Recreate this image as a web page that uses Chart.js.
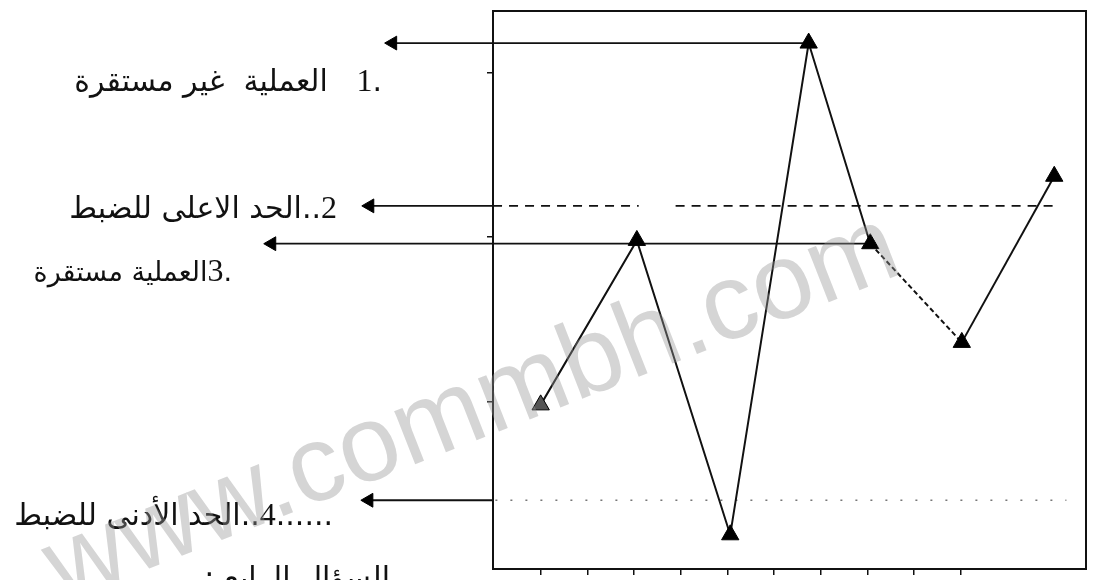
<!DOCTYPE html>
<html lang="ar">
<head>
<meta charset="utf-8">
<script src="https://cdn.jsdelivr.net/npm/chart.js@4.4.1/dist/chart.umd.min.js"></script>
<style>
body { margin: 0; background: #fff; }
#quadro { position: relative; width: 1097px; height: 580px; overflow: hidden; }
#grafico { position: absolute; left: 0; top: 0; }
.rotulo { position: absolute; font-family: "DejaVu Sans", sans-serif; font-size: 30px; color: #111; white-space: nowrap; line-height: 36px; }
.num { font-family: "Liberation Serif", serif; font-size: 32px; }
#marca { position: absolute; left: -60px; top: 340px; width: 1060px; text-align: center;
  font-family: "Liberation Sans", sans-serif; font-size: 108px; color: rgba(150,150,150,0.4);
  transform: rotate(-21.4deg); pointer-events: none; }
</style>
</head>
<body>
<div id="quadro">
  <canvas id="grafico" width="1097" height="580"></canvas>
  <div class="rotulo" dir="rtl" style="right:715px; top:62px;">.<span class="num">1</span>&nbsp;&nbsp;&nbsp;العملية&nbsp;&nbsp;غير مستقرة</div>
  <div class="rotulo" dir="rtl" style="right:760px; top:189px;"><span class="num">2</span>..الحد الاعلى للضبط</div>
  <div class="rotulo" dir="rtl" style="right:865px; top:252px; font-size:27px;">.<span class="num">3</span>العملية مستقرة</div>
  <div class="rotulo" dir="rtl" style="right:764px; top:496px;">......<span class="num">4</span>..الحد الأدنى للضبط</div>
  <div class="rotulo" dir="rtl" style="right:707px; top:560px;">السؤال الرابع :</div>
  <div id="marca">www.commbh.com</div>
</div>
<script>
// amostras do grafico de controle (unidades das escalas)
var posicoes = [0, 2.06, 4.06, 5.74, 7.06, 9.02, 11.0];
var valores = [0.98, 1.98, 0.19, 3.18, 1.96, 1.36, 2.37];
var limiteSuperior = 2.19;
var limiteInferior = 0.40;
var marcasX = [0, 1, 2, 3, 4, 5, 6, 7, 8, 9];
var marcasY = [1, 2, 3];
// ponta das setas (fora da caixa) e fim das linhas de limite
var pontasSetas = [-3.17, -3.66, -5.76, -3.68];
var bordaEsquerda = -1.02;
var fimSuperior = 11.04;
var fimInferior = 11.26;

document.addEventListener("DOMContentLoaded", desenhar);

function pontos(xs, ys) {
    return xs.map(function (x, i) { return { x: x, y: ys[i] }; });
}

function seta(x1, x2, y) {
    return {
        seta: true,
        data: [{ x: x1, y: y }, { x: x2, y: y }],
        borderColor: '#111',
        borderWidth: 1.8,
        pointStyle: 'triangle',
        rotation: -90,
        pointRadius: [8, 0],
        pointBackgroundColor: '#000',
        pointBorderColor: '#000',
        pointBorderWidth: 1,
        clip: false
    };
}

// as pontas ficam fora da area do grafico, o Chart.js nao as desenha sozinho
var pontasPlugin = {
    id: 'pontas',
    afterDatasetsDraw: function (chart) {
        var area = { left: -9999, right: 9999, top: -9999, bottom: 9999 };
        chart.data.datasets.forEach(function (ds, i) {
            if (!ds.seta) return;
            var el = chart.getDatasetMeta(i).data[0];
            if (el) el.draw(chart.ctx, area);
        });
    }
};

function desenhar() {
    var ctx = document.getElementById('grafico').getContext('2d');

    var serie = {
        data: pontos(posicoes, valores),
        borderColor: '#111',
        borderWidth: 2,
        pointStyle: 'triangle',
        pointRadius: 10,
        pointBackgroundColor: ['#555', '#000', '#000', '#000', '#000', '#000', '#000'],
        pointBorderColor: '#000',
        pointBorderWidth: 1,
        segment: {
            borderDash: function (c) { return c.p0DataIndex === 4 ? [5, 3] : undefined; }
        },
        clip: false
    };

    var superior = {
        data: [
            { x: bordaEsquerda, y: limiteSuperior },
            { x: 2.1, y: limiteSuperior },
            { x: 2.5, y: null },
            { x: 2.89, y: limiteSuperior },
            { x: fimSuperior, y: limiteSuperior }
        ],
        borderColor: '#111',
        borderWidth: 1.8,
        borderDash: [9, 7],
        pointRadius: 0,
        spanGaps: false,
        clip: false
    };

    var inferior = {
        data: [{ x: bordaEsquerda + 0.05, y: limiteInferior }, { x: fimInferior, y: limiteInferior }],
        borderColor: '#777',
        borderWidth: 1.5,
        borderDash: [2, 13],
        pointRadius: 0,
        clip: false
    };

    new Chart(ctx, {
        type: 'line',
        data: {
            datasets: [
                serie,
                superior,
                inferior,
                seta(pontasSetas[0], posicoes[3], valores[3]),
                seta(pontasSetas[1], bordaEsquerda, limiteSuperior),
                seta(pontasSetas[2], posicoes[4], valores[4]),
                seta(pontasSetas[3], bordaEsquerda, limiteInferior)
            ]
        },
        plugins: [pontasPlugin],
        options: {
            responsive: false,
            animation: false,
            events: [],
            layout: { padding: { left: 0, right: 0, top: 10, bottom: 0 } },
            plugins: { legend: { display: false }, tooltip: { enabled: false } },
            scales: {
                x: {
                    type: 'linear',
                    position: 'bottom',
                    min: -1.021,
                    max: 11.68,
                    afterBuildTicks: function (s) { s.ticks = marcasX.map(function (v) { return { value: v }; }); },
                    afterFit: function (s) { s.height = 5; },
                    ticks: { display: false },
                    grid: { drawOnChartArea: false, drawTicks: true, tickLength: 6, color: '#111', lineWidth: 1.5 },
                    border: { display: true, color: '#111', width: 2 }
                },
                y: {
                    type: 'linear',
                    position: 'left',
                    min: -0.018,
                    max: 3.375,
                    afterBuildTicks: function (s) { s.ticks = marcasY.map(function (v) { return { value: v }; }); },
                    afterFit: function (s) { s.width = 493; },
                    ticks: { display: false },
                    grid: { drawOnChartArea: false, drawTicks: true, tickLength: 6, color: '#111', lineWidth: 1.5 },
                    border: { display: true, color: '#111', width: 2 }
                },
                topo: {
                    type: 'linear',
                    position: 'top',
                    afterFit: function (s) { s.height = 0; },
                    ticks: { display: false },
                    grid: { display: false },
                    border: { display: true, color: '#111', width: 2 }
                },
                direita: {
                    type: 'linear',
                    position: 'right',
                    afterFit: function (s) { s.width = 7; },
                    ticks: { display: false },
                    grid: { display: false },
                    border: { display: true, color: '#111', width: 2 }
                }
            }
        }
    });
}
</script>
</body>
</html>
